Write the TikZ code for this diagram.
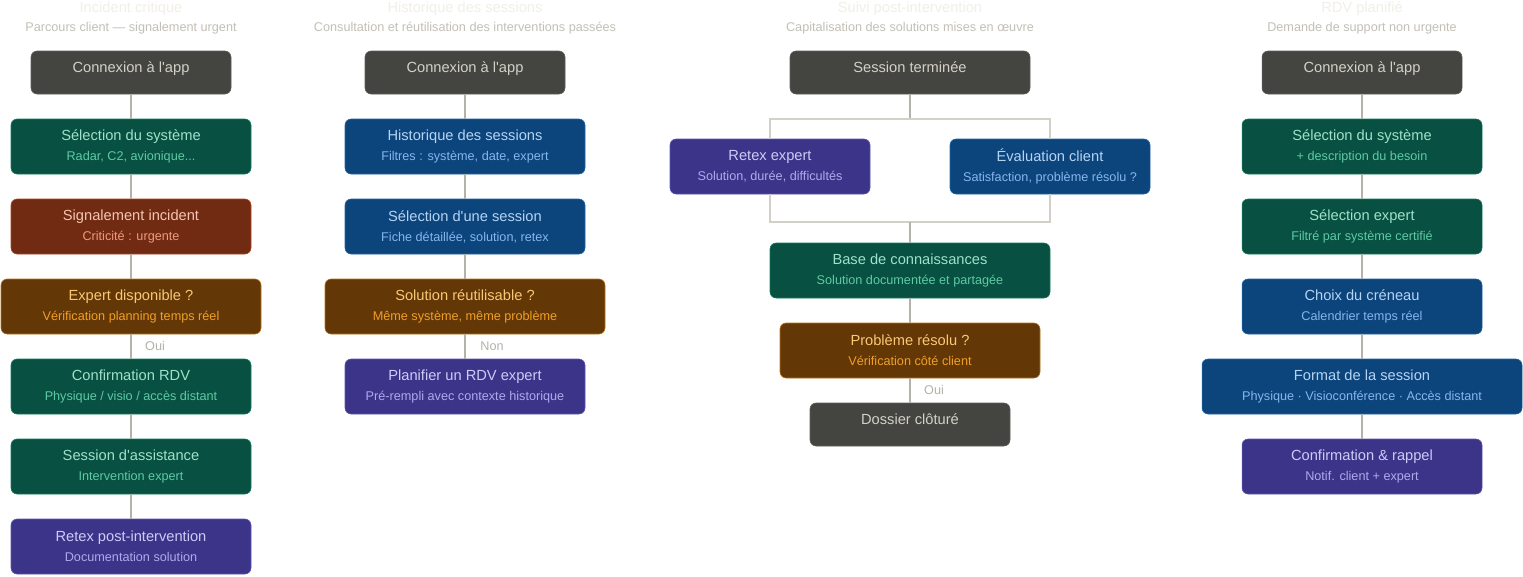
\documentclass[tikz,border=0pt]{standalone}
\usepackage{fontspec}
\setmainfont{Liberation Sans}
\definecolor{grayF}{HTML}{444441}\definecolor{grayB}{HTML}{5F5E5A}\definecolor{grayT}{HTML}{D3D1C7}
\definecolor{greenF}{HTML}{085041}\definecolor{greenB}{HTML}{1D9E75}\definecolor{greenT}{HTML}{9FE1CB}\definecolor{greenS}{HTML}{5DCAA5}
\definecolor{redF}{HTML}{712B13}\definecolor{redB}{HTML}{D85A30}\definecolor{redT}{HTML}{F5C4B3}\definecolor{redS}{HTML}{F0997B}
\definecolor{ambF}{HTML}{633806}\definecolor{ambB}{HTML}{BA7517}\definecolor{ambT}{HTML}{FAC775}\definecolor{ambS}{HTML}{EF9F27}
\definecolor{bluF}{HTML}{0C447C}\definecolor{bluB}{HTML}{378ADD}\definecolor{bluT}{HTML}{B5D4F4}\definecolor{bluS}{HTML}{85B7EB}
\definecolor{purF}{HTML}{3C3489}\definecolor{purB}{HTML}{7F77DD}\definecolor{purT}{HTML}{CECBF6}\definecolor{purS}{HTML}{AFA9EC}
\definecolor{lineC}{HTML}{B4B2A9}\definecolor{lineL}{HTML}{D3D1C7}
\definecolor{headT}{HTML}{F1EFE8}\definecolor{headS}{HTML}{C2C0B6}
\newcommand\subl[2]{{\fontsize{9.5pt}{13pt}\selectfont\color{#1}#2}}
\newcommand\one[1]{\raisebox{0pt}[0pt][0pt]{#1}}
\newcommand\ap{\textquotesingle}
\tikzset{
  nd/.style={rectangle, rounded corners=4.5pt, line width=0.4pt, align=center, inner sep=0pt,
     font=\fontsize{11pt}{15pt}\selectfont},
  w/.style={minimum width=#1*0.75pt},
  h/.style={minimum height=#1*0.75pt},
  cgray/.style={nd, fill=grayF, draw=grayB, text=grayT},
  cgreen/.style={nd, fill=greenF, draw=greenB!60!greenF, text=greenT},
  cred/.style={nd, fill=redF, draw=redB!60!redF, text=redT},
  camb/.style={nd, fill=ambF, draw=ambB, text=ambT},
  cblu/.style={nd, fill=bluF, draw=bluB!50!bluF, text=bluT},
  cpur/.style={nd, fill=purF, draw=purB!50!purF, text=purT},
  conn/.style={draw=lineC, line width=1.1pt},
  connl/.style={draw=lineL, line width=1.1pt},
  head/.style={text=headT, font=\fontsize{11pt}{12pt}\selectfont},
  subh/.style={text=headS, font=\fontsize{9.5pt}{11pt}\selectfont},
  lbl/.style={text=lineC, font=\fontsize{9.5pt}{11pt}\selectfont},
}
\begin{document}
\begin{tikzpicture}[x=0.75pt, y=-0.75pt]
\useasboundingbox (0,0) rectangle (1523,576);
\fill[white] (0,0) rectangle (1523,576);
% headers
\node[head] (h1) at (131,9) {Incident critique};
\node[subh] (s1) at (131,28.5) {Parcours client — signalement urgent};
\node[head] (h2) at (465,9) {Historique des sessions};
\node[subh] (s2) at (465,28.5) {Consultation et réutilisation des interventions passées};
\node[head] (h3) at (910,9) {Suivi post-intervention};
\node[subh] (s3) at (910,28.5) {Capitalisation des solutions mises en œuvre};
\node[head] (h4) at (1362,9) {RDV planifié};
\node[subh] (s4) at (1362,28.5) {Demande de support non urgente};
% column 1
\node[cgray, w=200, h=43] (a1) at (131,72.5) {\one{Connexion à l\ap app}};
\node[cgreen, w=240, h=55] (a2) at (131,146.5) {Sélection du système\\\subl{greenS}{Radar, C2, avionique...}};
\node[cred, w=240, h=55] (a3) at (131,226.5) {Signalement incident\\\subl{redS}{Criticité : urgente}};
\node[camb, w=260, h=55] (a4) at (131,306.5) {Expert disponible ?\\\subl{ambS}{Vérification planning temps réel}};
\node[cgreen, w=240, h=55] (a5) at (131,386.5) {Confirmation RDV\\\subl{greenS}{Physique / visio / accès distant}};
\node[cgreen, w=240, h=55] (a6) at (131,466.5) {Session d\ap assistance\\\subl{greenS}{Intervention expert}};
\node[cpur, w=240, h=55] (a7) at (131,546.5) {Retex post-intervention\\\subl{purS}{Documentation solution}};
\draw[conn] (a1) -- (a2); \draw[conn] (a2) -- (a3); \draw[conn] (a3) -- (a4);
\draw[conn] (a4) -- (a5); \draw[conn] (a5) -- (a6); \draw[conn] (a6) -- (a7);
\node[lbl] (l1) at (155,346) {Oui};
% column 2
\node[cgray, w=200, h=43] (b1) at (465,72.5) {\one{Connexion à l\ap app}};
\node[cblu, w=240, h=55] (b2) at (465,146.5) {Historique des sessions\\\subl{bluS}{Filtres : système, date, expert}};
\node[cblu, w=240, h=55] (b3) at (465,226.5) {Sélection d\ap une session\\\subl{bluS}{Fiche détaillée, solution, retex}};
\node[camb, w=280, h=55] (b4) at (465,306.5) {Solution réutilisable ?\\\subl{ambS}{Même système, même problème}};
\node[cpur, w=240, h=55] (b5) at (465,386.5) {Planifier un RDV expert\\\subl{purS}{Pré-rempli avec contexte historique}};
\draw[conn] (b1) -- (b2); \draw[conn] (b2) -- (b3); \draw[conn] (b3) -- (b4); \draw[conn] (b4) -- (b5);
\node[lbl] (l2) at (492,346) {Non};
% column 3
\node[cgray, w=240, h=43] (c1) at (910,72.5) {\one{Session terminée}};
\node[cpur, w=200, h=55] (c2) at (770,166.5) {Retex expert\\\subl{purS}{Solution, durée, difficultés}};
\node[cblu, w=200, h=55] (c3) at (1050,166.5) {Évaluation client\\\subl{bluS}{Satisfaction, problème résolu ?}};
\node[cgreen, w=280, h=55] (c4) at (910,270.5) {Base de connaissances\\\subl{greenS}{Solution documentée et partagée}};
\node[camb, w=260, h=55] (c5) at (910,350.5) {Problème résolu ?\\\subl{ambS}{Vérification côté client}};
\node[cgray, w=200, h=43] (c6) at (910,424.5) {\one{Dossier clôturé}};
\coordinate (j1) at (910,119);
\coordinate (j2) at (910,222);
\draw[conn] (c1) -- (j1);
\draw[connl] (c2.north) |- (j1) -| (c3.north);
\draw[connl] (c2.south) |- (j2) -| (c3.south);
\draw[conn] (j2) -- (c4);
\draw[conn] (c4) -- (c5); \draw[conn] (c5) -- (c6);
\node[lbl] (l3) at (934,390) {Oui};
% column 4
\node[cgray, w=200, h=43] (d1) at (1362,72.5) {\one{Connexion à l\ap app}};
\node[cgreen, w=240, h=55] (d2) at (1362,146.5) {Sélection du système\\\subl{greenS}{+ description du besoin}};
\node[cgreen, w=240, h=55] (d3) at (1362,226.5) {Sélection expert\\\subl{greenS}{Filtré par système certifié}};
\node[cblu, w=240, h=55] (d4) at (1362,306.5) {Choix du créneau\\\subl{bluS}{Calendrier temps réel}};
\node[cblu, w=320, h=55] (d5) at (1362,386.5) {Format de la session\\\subl{bluS}{Physique · Visioconférence · Accès distant}};
\node[cpur, w=240, h=55] (d6) at (1362,466.5) {Confirmation \& rappel\\\subl{purS}{Notif. client + expert}};
\draw[conn] (d1) -- (d2); \draw[conn] (d2) -- (d3); \draw[conn] (d3) -- (d4);
\draw[conn] (d4) -- (d5); \draw[conn] (d5) -- (d6);
\end{tikzpicture}
\end{document}
